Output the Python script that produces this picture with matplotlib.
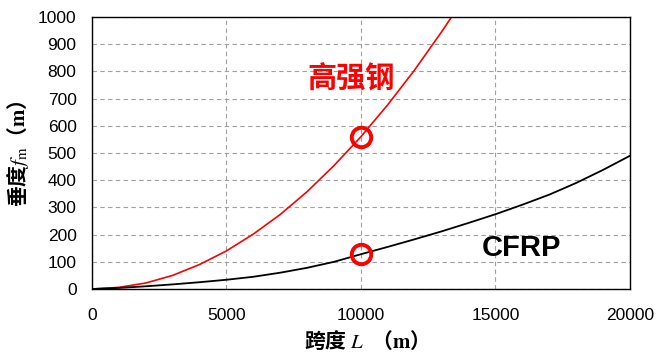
import numpy as np
import matplotlib.pyplot as plt

# span L (m) and sag f_m (m)
span_steel = [0, 1000, 2000, 3000, 4000, 5000, 6000, 7000, 8000, 9000,
              10000, 11000, 12000, 13000, 13400]
sag_steel = [0, 6, 22, 50, 90, 140, 202, 274, 358, 454,
             560, 678, 806, 946, 1005]
span_cfrp = [0, 1000, 2000, 3000, 4000, 5000, 6000, 7000, 8000, 9000, 10000,
             11000, 12000, 13000, 14000, 15000, 16000, 17000, 18000, 19000, 20000]
sag_cfrp = [0, 4, 10, 17, 25, 34, 45, 60, 78, 100, 128,
            155, 183, 212, 243, 275, 310, 347, 390, 438, 490]
mark_x = [10000, 10000]
mark_y = [560, 130]

plt.rcParams['font.family'] = ['Liberation Sans', 'Noto Sans CJK SC']
plt.rcParams['mathtext.fontset'] = 'stix'

fig = plt.figure(figsize=(6.61, 3.64), dpi=100)
ax = fig.add_axes([0.139, 0.206, 0.814, 0.747])

ax.plot(span_steel, sag_steel, color='red', lw=1.2)
ax.plot(span_cfrp, sag_cfrp, color='black', lw=1.3)
ax.plot(mark_x, mark_y, 'o', ms=14, mfc='none', mec='red', mew=2.8)

ax.set_xlim(0, 20000)
ax.set_ylim(0, 1000)
ax.set_xticks(np.arange(0, 20001, 5000))
ax.set_yticks(np.arange(0, 1001, 100))
ax.grid(True, color='#a0a0a0', ls=(0, (4, 3)), lw=0.8)
ax.tick_params(length=0, labelsize=12.5)
ax.tick_params(axis='x', pad=14)
ax.tick_params(axis='y', pad=11)
for s in ax.spines.values():
    s.set_color('black')
    s.set_linewidth(1)

cjk = ['Noto Sans CJK SC', 'Liberation Sans']
ax.text(8000, 740, '高强钢', color='red', fontsize=21, fontweight='bold', family=cjk)
ax.text(14500, 122, 'CFRP', color='black', fontsize=21, fontweight='bold')

ax.set_xlabel('跨度 $L$  （$\\mathbf{m}$）', fontsize=15, fontweight='bold',
              family=cjk, labelpad=4)
ax.set_ylabel('垂度$f_{\\mathrm{m}}$（$\\mathbf{m}$）', fontsize=15, fontweight='bold',
              family=cjk, labelpad=5)

fig.savefig('out.png', dpi=100)
